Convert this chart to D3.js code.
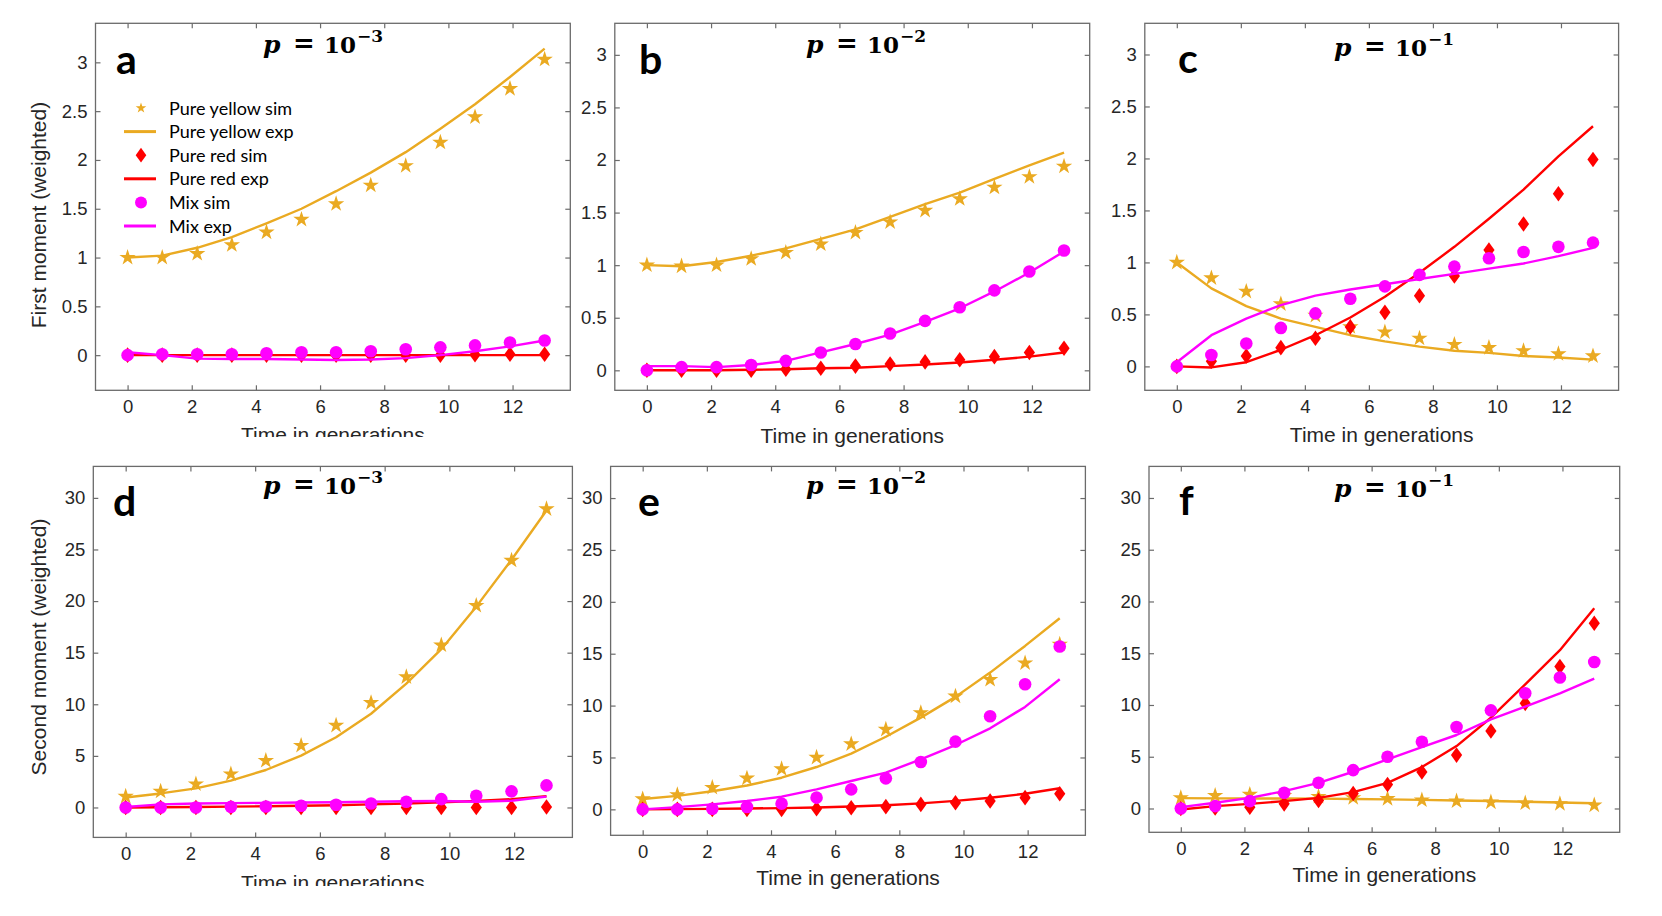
<!DOCTYPE html>
<html>
<head>
<meta charset="utf-8">
<script src="https://cdn.jsdelivr.net/npm/d3@7"></script>
<style>
  html, body { margin: 0; padding: 0; background: #ffffff; }
  svg { display: block; }
</style>
</head>
<body>
<svg id="chart" width="1662" height="916"></svg>
<script>
// ---------------- DATA ----------------
const generations = [0, 1.08, 2.17, 3.25, 4.33, 5.42, 6.5, 7.58, 8.67, 9.75, 10.83, 11.92, 13];
const xTicks = [0, 2, 4, 6, 8, 10, 12];
const yTicksFirst = [0, 0.5, 1, 1.5, 2, 2.5, 3];
const yTicksSecond = [0, 5, 10, 15, 20, 25, 30];
const panelLetters = ["a", "b", "c", "d", "e", "f"];
const pExponents = ["\u22123", "\u22122", "\u22121", "\u22123", "\u22122", "\u22121"];
const seriesNames = ["Pure yellow sim", "Pure yellow exp", "Pure red sim", "Pure red exp", "Mix sim", "Mix exp"];
const xLabel = "Time in generations";
const yLabelFirst = "First moment (weighted)";
const yLabelSecond = "Second moment (weighted)";

// panel a (first moment, p = 1e-3)
const aYellowSim = [1.0, 1.0, 1.04, 1.13, 1.26, 1.39, 1.55, 1.74, 1.94, 2.18, 2.44, 2.73, 3.03];
const aYellowExp = [1.0, 1.02, 1.10, 1.21, 1.35, 1.50, 1.68, 1.87, 2.08, 2.32, 2.57, 2.85, 3.14];
const aRedSim    = [0, 0, 0, 0, 0, 0, 0, 0, 0, 0, 0.005, 0.01, 0.01];
const aRedExp    = [0, 0, 0, 0, 0, 0, 0, 0, 0, 0, 0, 0, 0];
const aMixSim    = [0, 0.01, 0.01, 0.01, 0.02, 0.03, 0.03, 0.04, 0.06, 0.08, 0.10, 0.13, 0.15];
const aMixExp    = [0.03, 0, -0.035, -0.04, -0.04, -0.045, -0.05, -0.045, -0.03, 0, 0.04, 0.09, 0.15];

// panel b (first moment, p = 1e-2)
const bYellowSim = [1.00, 0.99, 1.00, 1.06, 1.12, 1.20, 1.31, 1.41, 1.52, 1.63, 1.74, 1.84, 1.94];
const bYellowExp = [1.00, 0.99, 1.03, 1.09, 1.16, 1.25, 1.34, 1.46, 1.58, 1.69, 1.82, 1.95, 2.07];
const bRedSim    = [0, 0, 0, 0, 0.01, 0.02, 0.04, 0.06, 0.08, 0.10, 0.13, 0.17, 0.21];
const bRedExp    = [0, 0, 0, 0.005, 0.01, 0.02, 0.025, 0.04, 0.055, 0.075, 0.10, 0.13, 0.17];
const bMixSim    = [0, 0.03, 0.03, 0.05, 0.09, 0.17, 0.25, 0.35, 0.47, 0.60, 0.76, 0.94, 1.14];
const bMixExp    = [0.04, 0.04, 0.03, 0.05, 0.09, 0.17, 0.25, 0.34, 0.46, 0.59, 0.75, 0.93, 1.13];

// panel c (first moment, p = 1e-1)
const cYellowSim = [1.00, 0.85, 0.72, 0.60, 0.49, 0.38, 0.33, 0.27, 0.21, 0.18, 0.15, 0.12, 0.10];
const cYellowExp = [1.00, 0.75, 0.58, 0.46, 0.38, 0.30, 0.24, 0.19, 0.15, 0.13, 0.10, 0.085, 0.065];
const cRedSim    = [0, 0.05, 0.10, 0.18, 0.27, 0.38, 0.52, 0.68, 0.87, 1.12, 1.37, 1.66, 1.99];
const cRedExp    = [0, -0.01, 0.04, 0.16, 0.30, 0.47, 0.67, 0.90, 1.15, 1.42, 1.70, 2.02, 2.31];
const cMixSim    = [0, 0.11, 0.22, 0.37, 0.51, 0.65, 0.77, 0.88, 0.96, 1.04, 1.10, 1.15, 1.19];
const cMixExp    = [0.04, 0.30, 0.46, 0.59, 0.68, 0.74, 0.79, 0.84, 0.89, 0.94, 0.99, 1.06, 1.14];

// panel d (second moment, p = 1e-3)
const dYellowSim = [1.07, 1.56, 2.27, 3.24, 4.54, 6.0, 7.95, 10.15, 12.65, 15.73, 19.56, 23.94, 28.93];
const dYellowExp = [0.97, 1.36, 1.85, 2.6, 3.63, 5.03, 6.81, 9.08, 12.0, 15.34, 19.46, 24.0, 28.77];
const dRedSim    = [0, 0, 0, 0, 0, 0, 0, 0, 0, 0, 0, 0, 0.05];
const dRedExp    = [0, 0.02, 0.05, 0.08, 0.12, 0.17, 0.22, 0.3, 0.38, 0.5, 0.63, 0.8, 1.1];
const dMixSim    = [0, 0, 0, 0.06, 0.1, 0.16, 0.26, 0.39, 0.55, 0.81, 1.14, 1.56, 2.14];
const dMixExp    = [0.05, 0.3, 0.38, 0.42, 0.45, 0.48, 0.5, 0.55, 0.6, 0.62, 0.55, 0.65, 1.05];

// panel e (second moment, p = 1e-2)
const eYellowSim = [1.0, 1.4, 2.1, 3.0, 3.9, 5.0, 6.3, 7.7, 9.3, 10.9, 12.5, 14.1, 15.9];
const eYellowExp = [1.0, 1.3, 1.75, 2.3, 3.05, 4.08, 5.37, 7.0, 8.84, 10.84, 13.18, 15.75, 18.42];
const eRedSim    = [0, 0, 0, 0, 0, 0.06, 0.16, 0.26, 0.48, 0.64, 0.8, 1.13, 1.51];
const eRedExp    = [0, 0.02, 0.05, 0.08, 0.12, 0.18, 0.28, 0.4, 0.58, 0.82, 1.12, 1.5, 2.03];
const eMixSim    = [0, 0, 0.06, 0.22, 0.55, 1.13, 1.93, 2.99, 4.57, 6.53, 8.97, 12.06, 15.69];
const eMixExp    = [0, 0.22, 0.48, 0.8, 1.22, 1.93, 2.73, 3.54, 4.82, 6.2, 7.81, 9.87, 12.54];

// panel f (second moment, p = 1e-1)
const fYellowSim = [1.03, 1.25, 1.35, 1.25, 1.15, 1.03, 0.94, 0.81, 0.71, 0.61, 0.52, 0.45, 0.32];
const fYellowExp = [1.0, 0.98, 0.97, 0.96, 0.95, 0.92, 0.88, 0.83, 0.77, 0.72, 0.65, 0.58, 0.5];
const fRedSim    = [0, 0.05, 0.13, 0.45, 0.77, 1.45, 2.32, 3.52, 5.16, 7.48, 10.16, 13.71, 17.9];
const fRedExp    = [-0.1, 0.23, 0.45, 0.71, 1.03, 1.58, 2.48, 4.0, 6.03, 8.77, 12.0, 15.29, 19.35];
const fMixSim    = [0, 0.23, 0.71, 1.52, 2.48, 3.71, 5.0, 6.45, 7.87, 9.48, 11.13, 12.65, 14.16];
const fMixExp    = [0.13, 0.55, 1.03, 1.68, 2.48, 3.55, 4.74, 5.94, 7.1, 8.61, 9.84, 11.13, 12.55];

// ---------------- STYLE / LAYOUT ----------------
const COLORS = { yellow: "#EAAA22", red: "#FF0000", mix: "#FF00FF" };
const X_DOMAIN = [-1, 13.8];

const panels = [
  { letter: panelLetters[0], exp: pExponents[0], yTicks: yTicksFirst,  ylim: [-0.36, 3.4],
    box: [95.5, 23.3, 570.3, 390.3], titleX: 263, titleY: 53, letterX: 116, letterY: 74,
    xlabY: 442, clipY: 437, legend: true,
    series: [aYellowSim, aYellowExp, aRedSim, aRedExp, aMixSim, aMixExp] },
  { letter: panelLetters[1], exp: pExponents[1], yTicks: yTicksFirst,  ylim: [-0.19, 3.3],
    box: [614.8, 23.3, 1089.7, 390.3], titleX: 806, titleY: 53, letterX: 639, letterY: 74,
    xlabY: 443, clipY: null, legend: false,
    series: [bYellowSim, bYellowExp, bRedSim, bRedExp, bMixSim, bMixExp] },
  { letter: panelLetters[2], exp: pExponents[2], yTicks: yTicksFirst,  ylim: [-0.23, 3.3],
    box: [1144.8, 23.3, 1618.6, 390.3], titleX: 1334, titleY: 56, letterX: 1178, letterY: 73,
    xlabY: 442, clipY: null, legend: false,
    series: [cYellowSim, cYellowExp, cRedSim, cRedExp, cMixSim, cMixExp] },
  { letter: panelLetters[3], exp: pExponents[3], yTicks: yTicksSecond, ylim: [-2.9, 33.05],
    box: [93.3, 466.4, 572.4, 837.4], titleX: 263, titleY: 494, letterX: 113, letterY: 516,
    xlabY: 890, clipY: 886, legend: false,
    series: [dYellowSim, dYellowExp, dRedSim, dRedExp, dMixSim, dMixExp] },
  { letter: panelLetters[4], exp: pExponents[4], yTicks: yTicksSecond, ylim: [-2.5, 33.05],
    box: [610.6, 466.4, 1085.4, 835.3], titleX: 806, titleY: 494, letterX: 638, letterY: 516,
    xlabY: 885, clipY: null, legend: false,
    series: [eYellowSim, eYellowExp, eRedSim, eRedExp, eMixSim, eMixExp] },
  { letter: panelLetters[5], exp: pExponents[5], yTicks: yTicksSecond, ylim: [-2.3, 33.05],
    box: [1149, 466.4, 1619.7, 832.3], titleX: 1334, titleY: 497, letterX: 1179, letterY: 515,
    xlabY: 882, clipY: null, legend: false,
    series: [fYellowSim, fYellowExp, fRedSim, fRedExp, fMixSim, fMixExp] }
];

const yAxisLabels = [
  { text: yLabelFirst,  x: 46, y: 215 },
  { text: yLabelSecond, x: 46, y: 647 }
];

// ---------------- DRAW ----------------
const svg = d3.select("#chart");
svg.append("rect").attr("width", 1662).attr("height", 916).attr("fill", "#ffffff");
const defs = svg.append("defs");

const TICK_FONT = "'Liberation Sans', Arial, Helvetica, sans-serif";
const AXIS_COLOR = "#6b6b6b";
const TEXT_COLOR = "#262626";

const starSym = (r) => d3.symbol(d3.symbolStar, (r * r) / 0.8908130915292852)();
const diamondPath = (hw, hh) => `M0,${-hh}L${hw},0L0,${hh}L${-hw},0Z`;

function markerPath(kind, scale) {
  if (kind === "star") return starSym(8.6 * scale);
  if (kind === "diamond") return diamondPath(5.6 * scale, 7.8 * scale);
  return d3.symbol(d3.symbolCircle, Math.PI * Math.pow(6.3 * scale, 2))();
}

const seriesStyle = [
  { type: "sim",  color: COLORS.yellow, marker: "star" },
  { type: "line", color: COLORS.yellow },
  { type: "sim",  color: COLORS.red,    marker: "diamond" },
  { type: "line", color: COLORS.red },
  { type: "sim",  color: COLORS.mix,    marker: "circle" },
  { type: "line", color: COLORS.mix }
];

panels.forEach((p, pi) => {
  const [x0, y0, x1, y1] = p.box;
  const x = d3.scaleLinear().domain(X_DOMAIN).range([x0, x1]);
  const y = d3.scaleLinear().domain(p.ylim).range([y1, y0]);
  const g = svg.append("g");

  const clipId = "clip" + pi;
  defs.append("clipPath").attr("id", clipId)
    .append("rect").attr("x", x0).attr("y", y0).attr("width", x1 - x0).attr("height", y1 - y0);

  const bottom = d3.axisBottom(x).tickValues(xTicks).tickSizeInner(-5).tickSizeOuter(0).tickPadding(8)
    .tickFormat(d => String(d));
  const left = d3.axisLeft(y).tickValues(p.yTicks).tickSizeInner(-5).tickSizeOuter(0).tickPadding(8)
    .tickFormat(d => String(d));
  const top = d3.axisTop(x).tickValues(xTicks).tickSizeInner(-5).tickSizeOuter(0).tickFormat("");
  const right = d3.axisRight(y).tickValues(p.yTicks).tickSizeInner(-5).tickSizeOuter(0).tickFormat("");

  const gb = g.append("g").attr("transform", `translate(0,${y1})`).call(bottom);
  const gl = g.append("g").attr("transform", `translate(${x0},0)`).call(left);
  const gt = g.append("g").attr("transform", `translate(0,${y0})`).call(top);
  const gr = g.append("g").attr("transform", `translate(${x1},0)`).call(right);
  [gb, gl, gt, gr].forEach(ax => {
    ax.select(".domain").remove();
    ax.selectAll(".tick line").attr("stroke", AXIS_COLOR).attr("stroke-width", 1.2);
    ax.selectAll(".tick text").attr("fill", TEXT_COLOR)
      .style("font-family", TICK_FONT).style("font-size", "18.5px");
  });
  gb.selectAll(".tick text").attr("dy", "0.8em");

  g.append("rect").attr("x", x0).attr("y", y0).attr("width", x1 - x0).attr("height", y1 - y0)
    .attr("fill", "none").attr("stroke", AXIS_COLOR).attr("stroke-width", 1.3);

  const plot = g.append("g").attr("clip-path", `url(#${clipId})`);
  const line = d3.line().x((d, i) => x(generations[i])).y(d => y(d));
  p.series.forEach((vals, si) => {
    const st = seriesStyle[si];
    if (st.type === "line") {
      plot.append("path").datum(vals).attr("d", line)
        .attr("fill", "none").attr("stroke", st.color).attr("stroke-width", 2.4)
        .attr("stroke-linejoin", "round");
    } else {
      plot.selectAll(null).data(vals).enter().append("path")
        .attr("d", markerPath(st.marker, 1))
        .attr("transform", (d, i) => `translate(${x(generations[i])},${y(d)})`)
        .attr("fill", st.color).attr("stroke", "none");
    }
  });

  g.append("text").attr("x", p.letterX).attr("y", p.letterY).text(p.letter)
    .style("font-family", "Lato, 'Open Sans', sans-serif").style("font-weight", 700)
    .style("font-size", "41px").attr("fill", "#000");

  const tg = g.append("g").attr("transform", `translate(${p.titleX},${p.titleY})`)
    .style("font-family", "'DejaVu Serif', 'Liberation Serif', serif").style("font-weight", 700)
    .attr("fill", "#000");
  tg.append("text").attr("x", 0).attr("y", 0).text("p").style("font-style", "italic").style("font-size", "25px");
  tg.append("text").attr("x", 30).attr("y", -1).text("=").style("font-size", "26px");
  tg.append("text").attr("x", 61).attr("y", 0).text("10").style("font-size", "23px");
  tg.append("text").attr("x", 94).attr("y", -11).text(p.exp).style("font-size", "17px");

  const xl = g.append("text").attr("x", (x0 + x1) / 2).attr("y", p.xlabY).text(xLabel)
    .attr("text-anchor", "middle").attr("fill", TEXT_COLOR)
    .style("font-family", TICK_FONT).style("font-size", "21px");
  if (p.clipY !== null) {
    const cid = "xlclip" + pi;
    defs.append("clipPath").attr("id", cid)
      .append("rect").attr("x", 0).attr("y", 0).attr("width", 1662).attr("height", p.clipY);
    xl.attr("clip-path", `url(#${cid})`);
  }

  if (p.legend) {
    const lg = g.append("g");
    seriesNames.forEach((name, i) => {
      const ry = 108 + i * 23.6;
      const st = seriesStyle[i];
      if (st.type === "line") {
        lg.append("line").attr("x1", 124).attr("x2", 156).attr("y1", ry).attr("y2", ry)
          .attr("stroke", st.color).attr("stroke-width", 3);
      } else {
        lg.append("path").attr("d", markerPath(st.marker, st.marker === "star" ? 0.65 : 0.95))
          .attr("transform", `translate(141,${ry})`).attr("fill", st.color);
      }
      lg.append("text").attr("x", 169).attr("y", ry + 6.5).text(name)
        .attr("fill", "#000").style("font-family", "Lato, 'Open Sans', sans-serif")
        .style("font-size", "18px");
    });
  }
});

yAxisLabels.forEach(l => {
  svg.append("text").attr("transform", `translate(${l.x},${l.y}) rotate(-90)`)
    .attr("text-anchor", "middle").text(l.text).attr("fill", TEXT_COLOR)
    .style("font-family", TICK_FONT).style("font-size", "21px");
});
</script>
</body>
</html>
